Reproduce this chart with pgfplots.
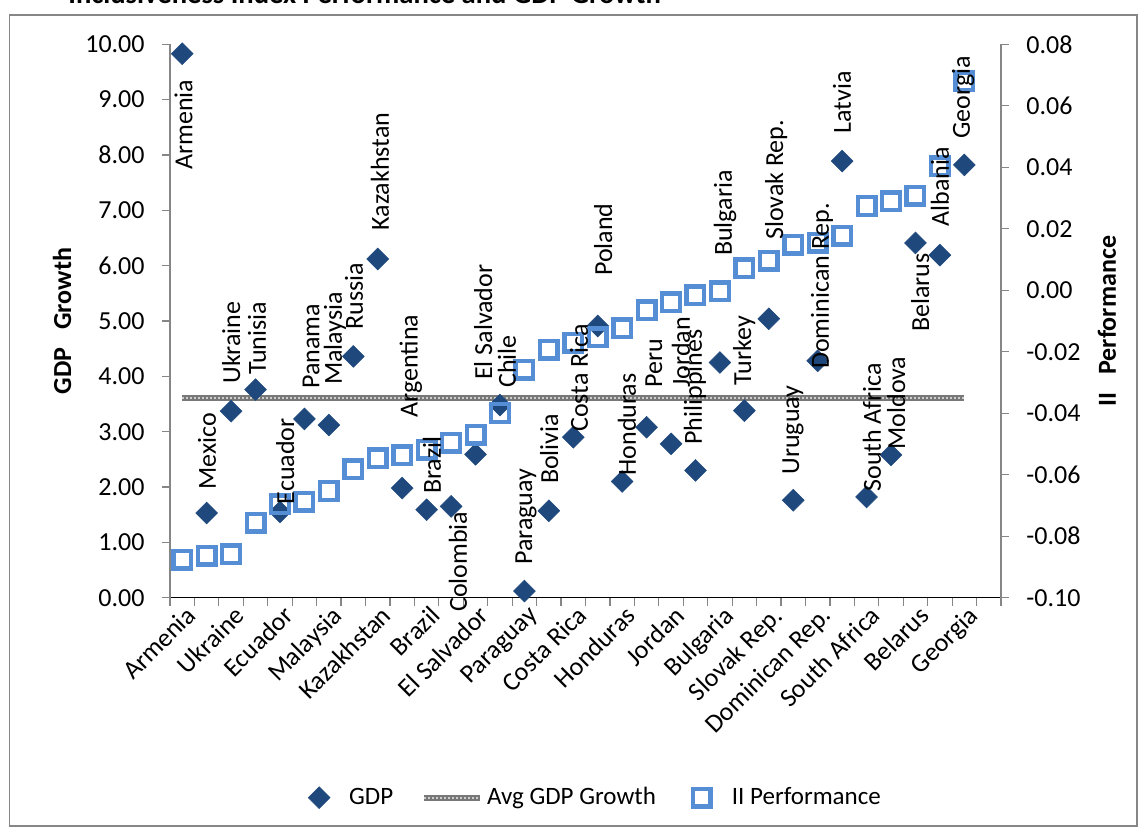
\documentclass[border=0pt]{standalone}
\usepackage{fontspec}
\setmainfont{Carlito}
\usepackage{pgfplots}
\pgfplotsset{compat=1.18}
\usepackage{pgfplotstable}
\definecolor{gdpblue}{RGB}{31,73,125}
\definecolor{iiblue}{RGB}{85,142,213}
\definecolor{axgray}{RGB}{134,134,134}
\definecolor{avggray}{RGB}{120,120,120}
\definecolor{avglight}{RGB}{205,205,205}
\newcommand\lf{\fontsize{13}{15.6}\selectfont}
% label anchor coordinate (inside the right-hand axis), given in left-axis units
\newcommand\lblc[3]{\coordinate (L#1) at (axis cs:#2,{-0.1+0.018*(#3)});}
\newcommand\lbln[2]{\node[rotate=90,anchor=west,inner sep=0pt,font=\lf] at (L#1) {#2};}

\pgfplotstableread{
k gdp ii
0 9.83 -0.0877
1 1.53 -0.0864
2 3.37 -0.0859
3 3.76 -0.0756
4 1.55 -0.0696
5 3.23 -0.0688
6 3.12 -0.0653
7 4.36 -0.0583
8 6.12 -0.0546
9 1.98 -0.0537
10 1.59 -0.0519
11 1.65 -0.0496
12 2.59 -0.0470
13 3.48 -0.0399
14 0.12 -0.0259
15 1.57 -0.0194
16 2.90 -0.0171
17 4.91 -0.0153
18 2.10 -0.0124
19 3.08 -0.0065
20 2.78 -0.0039
21 2.30 -0.0016
22 4.25 -0.0003
23 3.38 0.0072
24 5.04 0.0096
25 1.76 0.0148
26 4.28 0.0155
27 7.89 0.0177
28 1.82 0.0274
29 2.58 0.0289
30 6.41 0.0307
31 6.19 0.0403
32 7.82 0.0680
}\data

\pgfplotstableread{
k avg
0 3.61
32 3.61
}\avgdata

\pgfplotsset{
  gdpstyle/.style={only marks, mark=square*, mark size=3.85pt,
    mark options={rotate=45, fill=gdpblue, draw=gdpblue, line width=0.3pt}},
  marklegend/.style={legend image code/.code={%
    \path[draw=none,fill=none] (0pt,0pt) (22pt,0pt);
    \draw[##1] plot coordinates {(9pt,0pt)};}},
  avgstyle/.style={no marks, line width=3pt, color=avggray,
    postaction={draw=avglight, line width=1.1pt, dash pattern=on 1pt off 1pt}},
  avglegend/.style={legend image code/.code={\draw[##1] (0pt,0pt) -- (28pt,0pt);}},
  iistyle/.style={only marks, mark=square, mark size=4.4pt,
    mark options={draw=iiblue, line width=2.2pt}},
  commonax/.style={at={(0pt,0pt)}, anchor=south west, scale only axis,
    width=415.5pt, height=276.7pt, xmin=-0.5, xmax=33.5, clip=false,
    tick align=outside, major tick length=4pt,
    yticklabel style={font=\lf, inner sep=0pt,
      /pgf/number format/fixed, /pgf/number format/fixed zerofill,
      /pgf/number format/precision=2, /pgf/number format/assume math mode=true}},
}

\begin{document}
\begin{tikzpicture}
\begin{axis}[commonax,
  ymin=0, ymax=10,
  axis x line*=bottom, axis y line*=left,
  x axis line style={black,-,line width=0.75pt},
  y axis line style={axgray,-,line width=0.75pt},
  xtick={-0.5,0.5,...,33.5}, xticklabels={},
  x tick style={axgray, line width=0.6pt},
  extra x ticks={0,2,...,32},
  extra x tick labels={Armenia,Ukraine,Ecuador,Malaysia,Kazakhstan,Brazil,El Salvador,Paraguay,Costa Rica,Honduras,Jordan,Bulgaria,Slovak Rep.,Dominican Rep.,South Africa,Belarus,Georgia},
  extra x tick style={major tick length=0pt,
    xticklabel style={rotate=45, anchor=north east, font=\lf, inner sep=0pt, xshift=-1.5pt, yshift=-3pt}},
  ytick={0,1,...,10},
  y tick style={axgray, line width=0.6pt},
  yticklabel style={/tikz/xshift=-8.5pt},
]
\addplot[avgstyle] table[x=k,y=avg]{\avgdata};
\addplot[gdpstyle] table[x=k,y=gdp]{\data};
\end{axis}
\begin{axis}[commonax,
  ymin=-0.10, ymax=0.08,
  axis x line=none, axis y line*=right,
  y axis line style={axgray,-,line width=0.75pt},
  ytick={-0.1,-0.08,-0.06,-0.04,-0.02,0,0.02,0.04,0.06,0.08},
  y tick style={axgray, line width=0.6pt},
  yticklabel style={/tikz/xshift=8.5pt},
  legend style={at={(0.509,-0.3614)}, anchor=center, draw=none, fill=none,
    legend columns=3, font=\fontsize{12.5}{15}\selectfont,
    /tikz/every even column/.append style={column sep=12pt}},
]
\addlegendimage{gdpstyle,marklegend}
\addlegendentry{GDP}
\addlegendimage{avgstyle,avglegend}
\addlegendentry{Avg GDP Growth}
\addplot[iistyle,marklegend] table[x=k,y=ii]{\data};
\addlegendentry{II Performance}
\lblc{0}{0.05}{7.73}
\lblc{1}{1.01}{1.95}
\lblc{2}{2.0}{3.86}
\lblc{3}{3.06}{4.02}
\lblc{4}{4.21}{1.68}
\lblc{5}{5.27}{3.77}
\lblc{6}{6.25}{3.84}
\lblc{7}{7.03}{4.84}
\lblc{8}{8.09}{6.63}
\lblc{9}{9.36}{3.25}
\lblc{10}{10.22}{1.87}
\lblc{11}{11.28}{-0.26}
\lblc{12}{12.31}{3.93}
\lblc{13}{13.29}{3.79}
\lblc{14}{14.07}{0.59}
\lblc{15}{15.01}{2.05}
\lblc{16}{16.24}{2.99}
\lblc{17}{17.22}{5.81}
\lblc{18}{18.2}{2.2}
\lblc{19}{19.3}{3.79}
\lblc{20}{20.41}{3.79}
\lblc{21}{20.98}{2.76}
\lblc{22}{22.21}{6.17}
\lblc{23}{22.99}{3.83}
\lblc{24}{24.3}{6.46}
\lblc{25}{24.99}{2.22}
\lblc{26}{26.18}{4.13}
\lblc{27}{27.0}{8.38}
\lblc{28}{28.22}{1.91}
\lblc{29}{29.21}{2.67}
\lblc{30}{30.19}{4.8}
\lblc{31}{31.0}{6.7}
\lblc{32}{31.95}{8.29}
\node[rotate=90, font=\lf\bfseries] at ([xshift=-54pt]rel axis cs:0,0.5) {GDP\ \ \ Growth};
\node[rotate=90, font=\lf\bfseries] at ([xshift=53pt]rel axis cs:1,0.5) {II\ \ \ Performance};
\end{axis}
\lbln{0}{Armenia}
\lbln{1}{Mexico}
\lbln{2}{Ukraine}
\lbln{3}{Tunisia}
\lbln{4}{Ecuador}
\lbln{5}{Panama}
\lbln{6}{Malaysia}
\lbln{7}{Russia}
\lbln{8}{Kazakhstan}
\lbln{9}{Argentina}
\lbln{10}{Brazil}
\lbln{11}{Colombia}
\lbln{12}{El Salvador}
\lbln{13}{Chile}
\lbln{14}{Paraguay}
\lbln{15}{Bolivia}
\lbln{16}{Costa Rica}
\lbln{17}{Poland}
\lbln{18}{Honduras}
\lbln{19}{Peru}
\lbln{20}{Jordan}
\lbln{21}{Philippines}
\lbln{22}{Bulgaria}
\lbln{23}{Turkey}
\lbln{24}{Slovak Rep.}
\lbln{25}{Uruguay}
\lbln{26}{Dominican Rep.}
\lbln{27}{Latvia}
\lbln{28}{South Africa}
\lbln{29}{Moldova}
\lbln{30}{Belarus}
\lbln{31}{Albania}
\lbln{32}{Georgia}
\draw[axgray, line width=0.75pt] (-80.25pt,291.35pt) rectangle (483.5pt,-114.15pt);
\node[anchor=base west, font=\fontsize{14.3}{17}\selectfont\bfseries, inner sep=0pt] at (-51pt,296.85pt) {Inclusiveness Index Performance and GDP Growth};
\pgfresetboundingbox
\path[use as bounding box] (-85pt,-115.15pt) rectangle (485.5pt,298.85pt);
\end{tikzpicture}
\end{document}
